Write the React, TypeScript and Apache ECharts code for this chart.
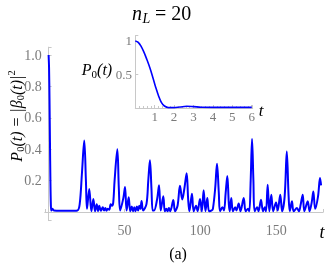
import React, { useEffect, useRef } from "react";
import * as echarts from "echarts";

// Main curve P0(t)
const mainT = [0, 0.3, 0.6, 0.9, 1.2, 1.5, 1.8, 2.5, 3.5, 8, 14, 19, 20.5, 22, 23.5, 24.6, 25.3, 26.8, 28.2, 29.5, 30.6, 31.7, 32.6, 33.4, 34.5, 35.7, 36.6, 37.4, 38.2, 39, 40, 40.9, 41.8, 42.6, 43.5, 45.3, 46.3, 47.2, 49.3, 50.4, 51.4, 52.8, 53.8, 54.8, 55.6, 56.5, 57.3, 58.2, 59, 59.8, 60.5, 61.3, 62.3, 64.5, 65.7, 66.8, 67.8, 68.6, 69.5, 71.5, 72.8, 73.9, 75.6, 76.6, 77.6, 78.4, 79.3, 80.2, 82.2, 83.3, 85, 86.6, 88.1, 89.5, 91, 92, 92.8, 94.5, 95.6, 97.2, 98.2, 99.8, 101, 102.2, 103.4, 104.6, 105.8, 107.5, 108.3, 109.8, 111, 112.2, 113, 114.6, 115.6, 116.7, 117.8, 118.8, 119.4, 120.4, 121.5, 123, 123.8, 125.3, 126.5, 128.6, 129.9, 131.5, 132.3, 133.2, 134.1, 135, 135.8, 137.5, 138.4, 140, 141.3, 142.5, 143.3, 144.4, 145.5, 146.8, 148, 149.9, 151, 152.7, 153.9, 155.6, 157, 158.2, 159, 160.4, 161.5, 163.7, 165, 166.2, 167.5, 168.6, 170.8, 172, 173.4, 174.5, 175.7, 177.6, 178.9, 179.6];
const mainP = [1, 0.92, 0.72, 0.45, 0.2, 0.05, 0.01, 0.02, 0.01, 0.008, 0.008, 0.01, 0.05, 0.25, 0.455, 0.2, 0.02, 0.147, 0.005, 0.083, 0.005, 0.05, 0.005, 0.04, 0.008, 0.03, 0.01, 0.025, 0.008, 0.02, 0.015, 0.05, 0.04, 0.06, 0.2, 0.4, 0.15, 0.01, 0.09, 0.16, 0.01, 0.094, 0.005, 0.035, 0.005, 0.03, 0.005, 0.035, 0.01, 0.04, 0.02, 0.07, 0.01, 0.05, 0.2, 0.33, 0.15, 0.01, 0.01, 0.08, 0.17, 0.01, 0.1, 0.005, 0.02, 0.005, 0.025, 0.005, 0.077, 0.005, 0.04, 0.167, 0.08, 0.15, 0.247, 0.08, 0.005, 0.117, 0.005, 0.04, 0.005, 0.083, 0.005, 0.138, 0.005, 0.089, 0.005, 0.01, 0.02, 0.15, 0.307, 0.12, 0.005, 0.03, 0.01, 0.12, 0.23, 0.05, 0.005, 0.089, 0.005, 0.03, 0.01, 0.055, 0.005, 0.089, 0.005, 0.02, 0.005, 0.2, 0.465, 0.2, 0.005, 0.03, 0.005, 0.078, 0.005, 0.03, 0.005, 0.174, 0.005, 0.11, 0.005, 0.06, 0.01, 0.11, 0.005, 0.1, 0.386, 0.1, 0.005, 0.068, 0.005, 0.025, 0.005, 0.05, 0.11, 0.005, 0.068, 0.005, 0.06, 0.13, 0.02, 0.1, 0.216, 0.17];

// Inset curve (short times)
const insetT = [0, 0.15, 0.3, 0.45, 0.6, 0.75, 0.9, 1.05, 1.2, 1.35, 1.5, 1.7, 2, 2.3, 2.65, 3, 3.4, 4, 5, 6];
const insetP = [1, 0.98, 0.92, 0.83, 0.72, 0.6, 0.46, 0.31, 0.18, 0.08, 0.03, 0.005, 0.005, 0.015, 0.025, 0.02, 0.012, 0.01, 0.01, 0.01];

const mainXTicks = [50, 100, 150];
const mainYTicks = [0.2, 0.4, 0.6, 0.8, 1.0];
const insetXTicks = [1, 2, 3, 4, 5, 6];
const insetYTicks = [0.5, 1];
const insetYTickText = ["0.5", "1"];

const SERIF = "'Liberation Serif', 'DejaVu Serif', serif";
const LABEL_GRAY = "#7a7a7a";
const AXIS_GRAY = "#c8c8c8";

const inList = (v: number, list: number[]) => list.some((t) => Math.abs(t - v) < 1e-6);

export default function App() {
  const ref = useRef<HTMLDivElement>(null);
  useEffect(() => {
    if (!ref.current) return;
    const chart = echarts.init(ref.current, undefined, { renderer: "svg" });
    const axisCommon = {
      type: "value" as const,
      splitLine: { show: false },
      axisLine: { onZero: true, lineStyle: { color: AXIS_GRAY, width: 1 } },
      axisTick: { show: true, inside: true, length: 3, lineStyle: { color: AXIS_GRAY } },
    };
    const lab = (size: number, margin: number, fmt: (v: number) => string) => ({
      margin,
      fontFamily: SERIF,
      fontSize: size,
      color: LABEL_GRAY,
      showMinLabel: true,
      showMaxLabel: true,
      hideOverlap: false,
      formatter: fmt,
    });
    const richMain = {
      i: { fontFamily: SERIF, fontStyle: "italic", fontSize: 16, lineHeight: 20, color: "#000" },
      s: { fontFamily: SERIF, fontStyle: "normal", fontSize: 10.5, lineHeight: 10, verticalAlign: "bottom", color: "#000" },
      p: { fontFamily: SERIF, fontStyle: "normal", fontSize: 10.5, lineHeight: 10, verticalAlign: "top", color: "#000" },
    };
    const richInset = {
      i: { fontFamily: SERIF, fontStyle: "italic", fontSize: 16, lineHeight: 20, color: "#000" },
      s: { fontFamily: SERIF, fontStyle: "normal", fontSize: 11, lineHeight: 11, verticalAlign: "bottom", color: "#000" },
    };
    const baseGraphic: any[] = [
      { type: "text", x: 132, y: 13, style: { text: "n", font: `italic 20px ${SERIF}`, fill: "#000", verticalAlign: "middle" } },
      { type: "text", x: 142.5, y: 18, style: { text: "L", font: `italic 14px ${SERIF}`, fill: "#000", verticalAlign: "middle" } },
      { type: "text", x: 155, y: 13, style: { text: "= 20", font: `20px ${SERIF}`, fill: "#000", verticalAlign: "middle" } },
      {
        type: "text",
        x: 16,
        y: 116,
        rotation: Math.PI / 2,
        style: {
          text: "{i|P}{s|0}{i|(t) = |\u03B2}{s|0}{i|(t)|}{p|2}",
          rich: richMain,
          align: "center",
          verticalAlign: "middle",
        },
      },
      {
        type: "text",
        x: 97,
        y: 69,
        style: { text: "{i|P}{s|0}{i|(t)}", rich: richInset, align: "center", verticalAlign: "middle" },
      },
      { type: "text", x: 261, y: 110, style: { text: "t", font: `italic 17px ${SERIF}`, fill: "#000", align: "center", verticalAlign: "middle" } },
      { type: "text", x: 322, y: 232, style: { text: "t", font: `italic 18px ${SERIF}`, fill: "#000", align: "center", verticalAlign: "middle" } },
      { type: "text", x: 178, y: 253, style: { text: "(a)", font: `16px ${SERIF}`, fill: "#000", align: "center", verticalAlign: "middle" } },
    ];
    chart.setOption({
      animation: false,
      grid: [
        { left: 44.8, top: 47.15, width: 278.4, height: 173.5 },
        { left: 135.3, top: 35.6, width: 117.4, height: 72.4 },
      ],
      xAxis: [
        {
          ...axisCommon,
          gridIndex: 0,
          min: -2.5,
          max: 181,
          minInterval: 50,
          maxInterval: 50,
          axisLabel: lab(14, 3, (v) => (inList(v, mainXTicks) ? String(Math.round(v)) : "")),
        },
        {
          ...axisCommon,
          gridIndex: 1,
          min: 0,
          max: 6.05,
          interval: 1,
          minorTick: { show: true, splitNumber: 5, length: 2, lineStyle: { color: AXIS_GRAY } },
          axisLabel: lab(13, 2, (v) => (inList(v, insetXTicks) ? String(Math.round(v)) : "")),
        },
      ],
      yAxis: [
        {
          ...axisCommon,
          gridIndex: 0,
          min: -0.055,
          max: 1.05,
          minInterval: 0.2,
          maxInterval: 0.2,
          axisLabel: lab(14, 3, (v) => (inList(v, mainYTicks) ? v.toFixed(1) : "")),
        },
        {
          ...axisCommon,
          gridIndex: 1,
          min: 0,
          max: 1.08,
          interval: 0.5,
          axisLabel: { show: false },
        },
      ],
      series: [
        {
          type: "line",
          xAxisIndex: 0,
          yAxisIndex: 0,
          data: mainT.map((t, i) => [t, mainP[i]]),
          showSymbol: false,
          symbol: "none",
          smooth: 0.35,
          lineStyle: { color: "#0000ff", width: 2 },
        },
        {
          type: "line",
          xAxisIndex: 1,
          yAxisIndex: 1,
          data: insetT.map((t, i) => [t, insetP[i]]),
          showSymbol: false,
          symbol: "none",
          smooth: 0.4,
          lineStyle: { color: "#0000ff", width: 1.6 },
        },
      ],
      graphic: baseGraphic,
    });
    // inset y tick labels, placed through the inset's own y scale
    const tickLabels = insetYTicks.map((v, i) => {
      const py = Number(chart.convertToPixel({ yAxisIndex: 1 }, v));
      return {
        type: "text",
        z: 100,
        x: 132,
        y: isFinite(py) ? py : 108 - v * 67,
        style: {
          text: insetYTickText[i],
          fontFamily: "Liberation Serif",
          fontSize: 13,
          fill: LABEL_GRAY,
          align: "right",
          verticalAlign: "middle",
        },
      };
    });
    chart.setOption({ graphic: [...baseGraphic, ...tickLabels] }, { replaceMerge: ["graphic"] });
    return () => chart.dispose();
  }, []);
  return <div ref={ref} style={{ position: "fixed", left: 0, top: 0, width: 332, height: 266 }} />;
}
